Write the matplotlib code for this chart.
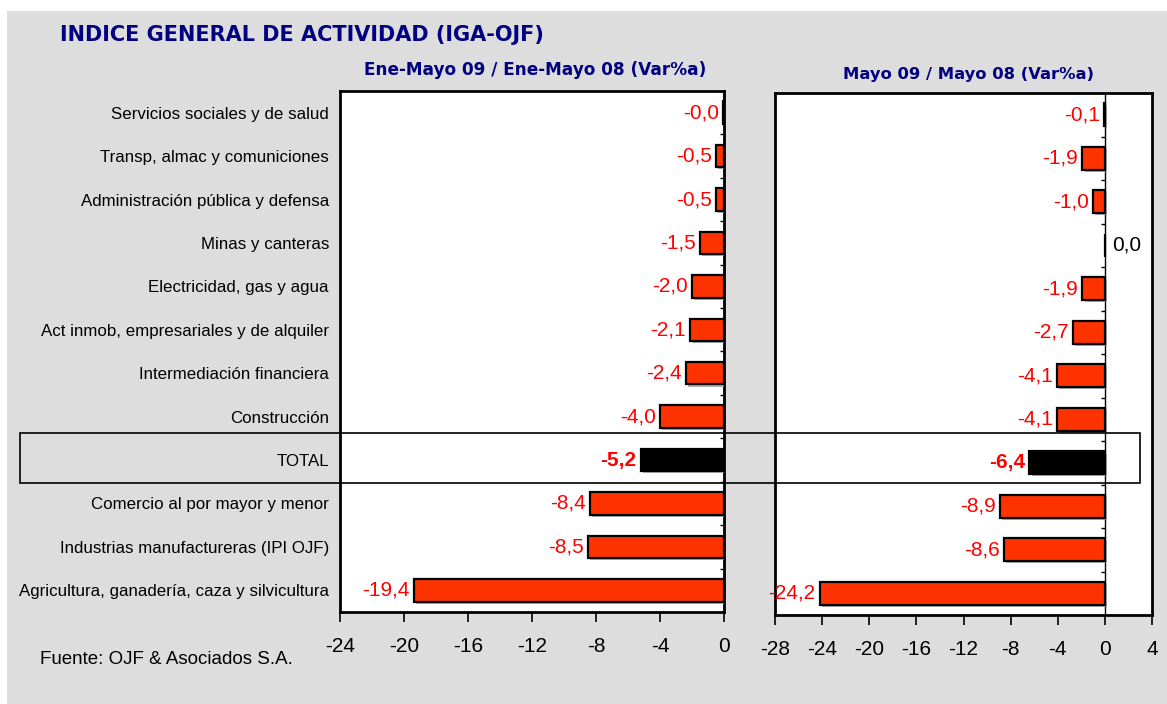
import matplotlib.pyplot as plt
import matplotlib.patches as mpatches
import matplotlib.patheffects as pe
import numpy as np

plt.rcParams['font.family'] = ['Liberation Sans', 'DejaVu Sans']

categorias = ['Servicios sociales y de salud',
              'Transp, almac y comuniciones',
              'Administración pública y defensa',
              'Minas y canteras',
              'Electricidad, gas y agua',
              'Act inmob, empresariales y de alquiler',
              'Intermediación financiera',
              'Construcción',
              'TOTAL',
              'Comercio al por mayor y menor',
              'Industrias manufactureras (IPI OJF)',
              'Agricultura, ganadería, caza y silvicultura']
ene_mayo = [-0.04, -0.5, -0.5, -1.5, -2.0, -2.1, -2.4, -4.0, -5.2, -8.4, -8.5, -19.4]
mayo = [-0.1, -1.9, -1.0, 0.0, -1.9, -2.7, -4.1, -4.1, -6.4, -8.9, -8.6, -24.2]
ticks_izq = [-24, -20, -16, -12, -8, -4, 0]
ticks_der = [-28, -24, -20, -16, -12, -8, -4, 0, 4]

NAVY = '#000080'
ROJO = '#ff3300'
W, H = 1167, 704

fig = plt.figure(figsize=(W / 100, H / 100), dpi=100, facecolor='white')
fig.add_artist(mpatches.Rectangle((7 / W, 0), 1, 1 - 11 / H, transform=fig.transFigure,
                                  facecolor='#dddddd', edgecolor='none', zorder=-10))

ax1 = fig.add_axes([340 / W, 1 - 612 / H, 384 / W, 521 / H])
ax2 = fig.add_axes([775 / W, 1 - 615 / H, 377 / W, 522 / H])

y = np.arange(len(categorias))
idx_total = categorias.index('TOTAL')


def fmt(v):
    return f'{v:.1f}'.replace('.', ',')


def panel(ax, vals, xlim, xticks, zero_frac):
    colores = ['black' if i == idx_total else ROJO for i in range(len(vals))]
    bars = ax.barh(y, vals, height=0.52, color=colores, edgecolor='black', linewidth=1.6, zorder=3)
    for b in bars:
        b.set_path_effects([pe.SimplePatchShadow(offset=(1.5, -1.5), shadow_rgbFace='#999999', alpha=0.8),
                            pe.Normal()])
    for i, v in enumerate(vals):
        if v == 0:
            ax.annotate(fmt(v), (v, i), xytext=(5, 0), textcoords='offset points',
                        ha='left', va='center', fontsize=15, color='black')
        else:
            bold = i == idx_total
            ax.annotate(fmt(v), (v, i), xytext=(-3, 0), textcoords='offset points',
                        ha='right', va='center', fontsize=15, color='#ff0000',
                        fontweight='bold' if bold else 'normal')
    ax.set_xlim(*xlim)
    ax.set_ylim(len(vals) - 0.5, -0.5)
    ax.set_xticks(xticks)
    ax.set_xticklabels([str(t) for t in xticks])
    ax.tick_params(axis='x', direction='out', length=7, width=1.2, labelsize=15, pad=11)
    for s in ax.spines.values():
        s.set_linewidth(2)
    ax.set_facecolor('white')
    sec = ax.secondary_yaxis(zero_frac)
    sec.set_yticks(np.arange(len(vals) - 1) + 0.5)
    sec.yaxis.set_ticks_position('left')
    sec.tick_params(direction='out', length=3, width=1, labelleft=False, labelright=False)
    sec.spines['left'].set_linewidth(1)
    sec.spines['right'].set_linewidth(1)


panel(ax1, ene_mayo, (-24, 0), ticks_izq, 1.0)
panel(ax2, mayo, (-28, 4), ticks_der, 28 / 32)

ax1.set_yticks(y)
ax1.set_yticklabels(categorias, fontsize=12.2)
ax1.tick_params(axis='y', length=0, pad=8)
ax2.set_yticks([])

fig.text(60 / W, 1 - 35 / H, 'INDICE GENERAL DE ACTIVIDAD (IGA-OJF)', family='DejaVu Sans',
         fontsize=15, fontweight='bold', color=NAVY, va='center', ha='left')
fig.text(535 / W, 1 - 70 / H, 'Ene-Mayo 09 / Ene-Mayo 08 (Var%a)', family='DejaVu Sans',
         fontsize=12.2, fontweight='bold', color=NAVY, va='center', ha='center')
fig.text(968 / W, 1 - 74 / H, 'Mayo 09 / Mayo 08 (Var%a)', family='DejaVu Sans',
         fontsize=11.8, fontweight='bold', color=NAVY, va='center', ha='center')
fig.text(40 / W, 1 - 660 / H, 'Fuente: OJF & Asociados S.A.', fontsize=13.5, va='center', ha='left')

fig.add_artist(mpatches.Rectangle((20 / W, 1 - 483 / H), 1120 / W, 50 / H, transform=fig.transFigure,
                                  fill=False, edgecolor='black', linewidth=1.2, zorder=10))

fig.savefig('out.png', dpi=100, facecolor=fig.get_facecolor())
